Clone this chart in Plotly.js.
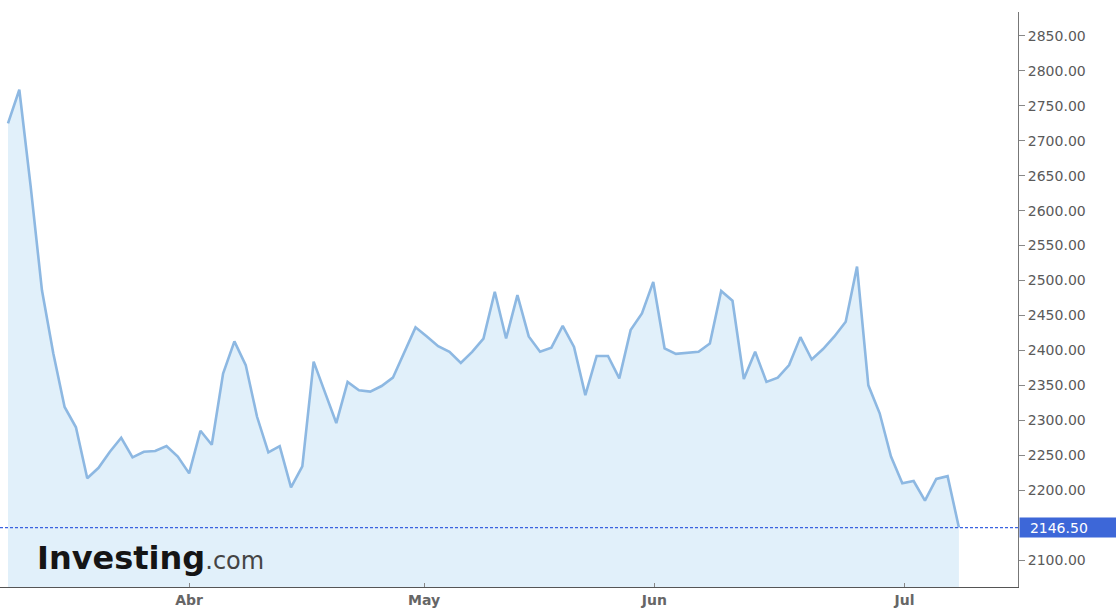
<!DOCTYPE html>
<html>
<head>
<meta charset="utf-8">
<script src="https://cdn.plot.ly/plotly-3.0.1.min.js"></script>
<style>
html,body{margin:0;padding:0;background:#fff;}
#chart{width:1116px;height:610px;}
</style>
</head>
<body>
<div id="chart"></div>
<script>
// Daily closing prices (trading days, mid-March to early July)
var prices = [
  2725, 2773, 2635, 2486, 2396, 2319, 2290, 2217, 2232, 2255,
  2275, 2247, 2255, 2256, 2263, 2248, 2224, 2285, 2265, 2367,
  2413, 2379, 2305, 2254, 2263, 2204, 2234, 2384, 2340, 2296,
  2355, 2343, 2341, 2349, 2361, 2397, 2433, 2420, 2406, 2398,
  2382, 2398, 2417, 2484, 2417, 2479, 2420, 2398, 2404, 2435,
  2405, 2336, 2392, 2392, 2360, 2429, 2453, 2498, 2403, 2395,
  2396, 2398, 2410, 2485, 2471, 2359, 2398, 2355, 2361, 2379,
  2419, 2387, 2402, 2420, 2441, 2520, 2350, 2310, 2248, 2210,
  2213, 2185, 2216, 2220, 2146.5
];
// Trading-day index of each point
var days = prices.map(function (_, i) { return i; });

// Month tick labels and their trading-day positions
var monthLabels = ["Abr", "May", "Jun", "Jul"];
var monthPos = [16.0, 36.75, 57.1, 79.2];

// Price axis tick values
var yTicks = [2100, 2200, 2250, 2300, 2350, 2400, 2450, 2500, 2550,
              2600, 2650, 2700, 2750, 2800, 2850];

var lastPrice = prices[prices.length - 1];

var trace = {
  x: days,
  y: prices,
  type: "scatter",
  mode: "lines",
  line: {color: "#8db8e2", width: 2.6},
  fill: "tozeroy",
  fillcolor: "#e1f0fa",
  hoverinfo: "skip"
};

var layout = {
  width: 1116,
  height: 610,
  margin: {l: 0, r: 98, t: 12, b: 23, pad: 0},
  paper_bgcolor: "#ffffff",
  plot_bgcolor: "#ffffff",
  showlegend: false,
  xaxis: {
    range: [-0.707, 89.22],
    showgrid: false,
    zeroline: false,
    showline: true,
    linecolor: "#555555",
    linewidth: 1,
    tickmode: "array",
    tickvals: monthPos,
    ticktext: monthLabels,
    ticks: "inside",
    ticklen: 4,
    tickcolor: "#888888",
    tickfont: {family: "DejaVu Sans", size: 14, weight: "bold", color: "#666666"},
    fixedrange: true
  },
  yaxis: {
    side: "right",
    range: [2061.4, 2884.3],
    showgrid: false,
    zeroline: false,
    showline: true,
    linecolor: "#777777",
    linewidth: 1,
    tickmode: "array",
    tickvals: yTicks,
    tickformat: ".2f",
    ticks: "outside",
    ticklen: 6,
    tickcolor: "#888888",
    tickfont: {family: "DejaVu Sans", size: 14, color: "#5a5a5a"},
    fixedrange: true
  },
  shapes: [{
    type: "line",
    xref: "paper", x0: 0, x1: 1,
    yref: "y", y0: lastPrice, y1: lastPrice,
    line: {color: "#3a62e0", width: 1.2, dash: "3px,2px"}
  }],
  annotations: [{
    xref: "paper", x: 1, xanchor: "left", xshift: 1,
    yref: "y", y: lastPrice, yanchor: "middle",
    text: "&nbsp;&nbsp;" + lastPrice.toFixed(2),
    showarrow: false,
    bgcolor: "#3d67d8",
    font: {family: "DejaVu Sans", size: 14, color: "#ffffff"},
    width: 94, height: 17, align: "left",
    borderpad: 1
  }, {
    xref: "paper", x: 35 / 1018, xanchor: "left",
    yref: "paper", y: 0.05, yanchor: "middle",
    text: "<b>Investing</b><span style='font-size:24px;color:#444444;font-weight:normal'>.com</span>",
    showarrow: false,
    font: {family: "DejaVu Sans", size: 32, color: "#151515"}
  }]
};

Plotly.newPlot("chart", [trace], layout, {displayModeBar: false, staticPlot: true});
</script>
</body>
</html>
